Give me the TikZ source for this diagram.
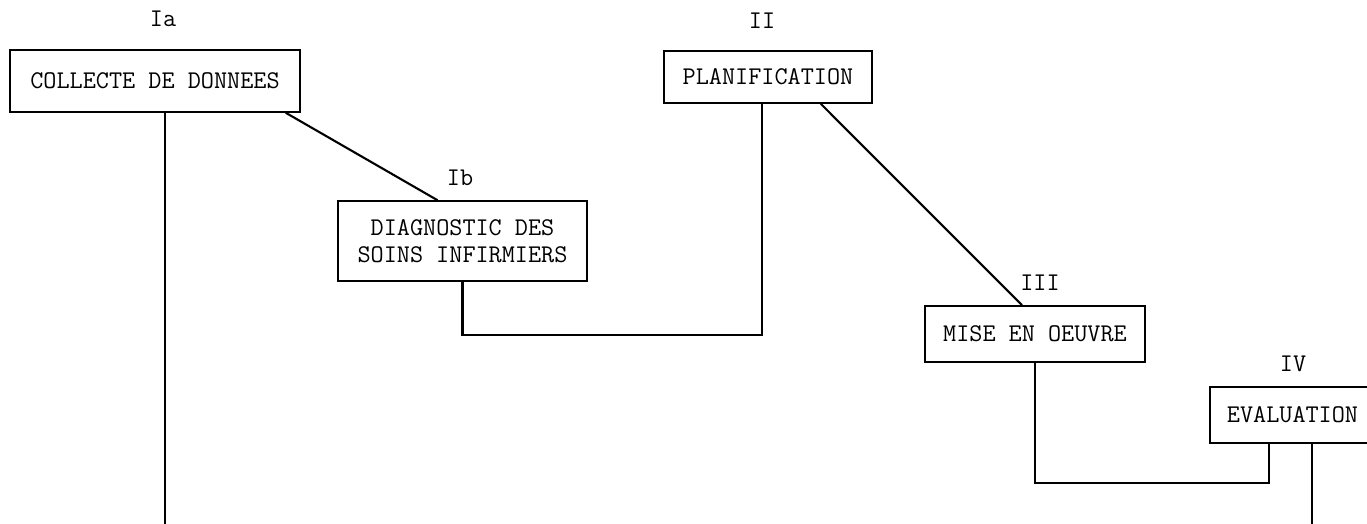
\documentclass[tikz,border=0pt]{standalone}
\usetikzlibrary{positioning}

\begin{document}
\begin{tikzpicture}[x=0.02cm, y=-0.02cm,
    every node/.style={font=\ttfamily\fontsize{14.5}{15.5}\selectfont},
    box/.style={draw, line width=0.9pt, inner sep=0pt, align=center},
    link/.style={line width=1.2pt}]
  \clip (0,0) rectangle (1367,524);

  % boxes
  \node[box, minimum width=5.8cm, minimum height=1.24cm] (collecte) at (155,81) {COLLECTE DE DONNEES};
  \node[box, minimum width=4.98cm, minimum height=1.6cm] (diag) at (462.5,241) {DIAGNOSTIC DES\\SOINS INFIRMIERS};
  \node[box, minimum width=4.16cm, minimum height=1.04cm] (plan) at (768,77) {PLANIFICATION};
  \node[box, minimum width=4.4cm, minimum height=1.12cm] (mise) at (1035,334) {MISE EN OEUVRE};
  \node[box, minimum width=3.3cm, minimum height=1.12cm] (eval) at (1292.5,415) {EVALUATION};

  % labels
  \node (lIa) at (163,19) {Ia};
  \node (lIb) at (460,178) {Ib};
  \node (lII) at (762,21) {II};
  \node (lIII) at (1040,283) {III};
  \node (lIV) at (1293,364) {IV};

  % connectors
  \coordinate (endA) at (165,530);
  \coordinate (endB) at (1312,530);
  \coordinate (j1) at (762,335);
  \coordinate (j2) at (1269,483);

  \draw[link] (endA |- collecte.south) -- (endA);
  \draw[link] ([xshift=-0.3cm]collecte.south east) -- ([xshift=-0.5cm]diag.north);
  \draw[link] (diag.south) |- (j1) -- (j1 |- plan.south);
  \draw[link] ([xshift=-1.04cm]plan.south east) -- ([xshift=-0.26cm]mise.north);
  \draw[link] (mise.south) |- (j2) -- (j2 |- eval.south);
  \draw[link] (endB |- eval.south) -- (endB);
\end{tikzpicture}
\end{document}
